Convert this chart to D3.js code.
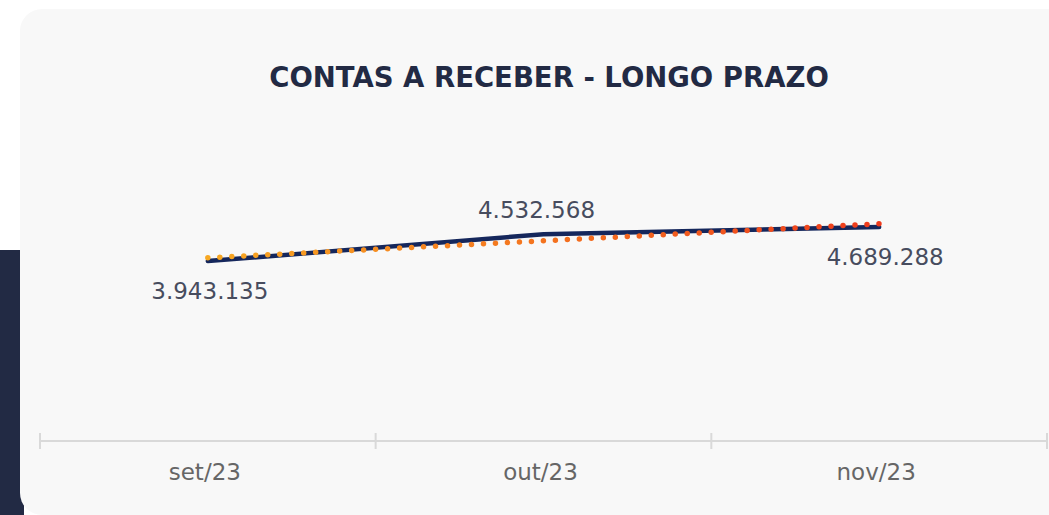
<!DOCTYPE html>
<html>
<head>
<meta charset="utf-8">
<script src="https://cdn.jsdelivr.net/npm/d3@7"></script>
<style>
  body { margin: 0; background: #ffffff; }
  svg { display: block; }
</style>
</head>
<body>
<div id="chart"></div>
<script>
// Data
const months = ["set/23", "out/23", "nov/23"];
const values = [3943135, 4532568, 4689288];
const labelSide = ["below", "above", "below"];
const chartTitle = "CONTAS A RECEBER - LONGO PRAZO";

const width = 1049;
const height = 515;

const svg = d3.select("#chart")
    .append("svg")
    .attr("width", width)
    .attr("height", height);

// Dark strip on the left and the card
svg.append("rect")
    .attr("x", 0).attr("y", 250)
    .attr("width", 24).attr("height", height - 250)
    .attr("fill", "#222a44");

svg.append("rect")
    .attr("x", 20).attr("y", 9)
    .attr("width", 1080).attr("height", 506)
    .attr("rx", 22)
    .attr("fill", "#f8f8f8");

// Scales
const x = d3.scaleBand()
    .domain(months)
    .range([40, 1047])
    .padding(0);

const y = d3.scaleLinear()
    .domain([0, 8000000])
    .range([441, 76]);

const cx = d => x(d) + x.bandwidth() / 2;

// Axis line and band edges
svg.append("line")
    .attr("x1", 40).attr("x2", 1047)
    .attr("y1", 441).attr("y2", 441)
    .attr("stroke", "#d9d9d9")
    .attr("stroke-width", 2);

const edges = months.map(m => x(m)).concat([x(months[months.length - 1]) + x.bandwidth()]);
svg.selectAll(".edge")
    .data(edges)
    .join("line")
    .attr("class", "edge")
    .attr("x1", d => d).attr("x2", d => d)
    .attr("y1", 433).attr("y2", 449)
    .attr("stroke", "#d9d9d9")
    .attr("stroke-width", 2);

svg.selectAll(".month")
    .data(months)
    .join("text")
    .attr("class", "month")
    .attr("x", d => cx(d) - 3)
    .attr("y", 480)
    .attr("text-anchor", "middle")
    .attr("fill", "#666666")
    .style("font-family", "DejaVu Sans, sans-serif")
    .style("font-size", "23px")
    .text(d => d);

// Trend line (linear regression)
const idx = values.map((v, i) => i);
const mx = d3.mean(idx), my = d3.mean(values);
const slope = d3.sum(idx, i => (i - mx) * (values[i] - my)) / d3.sum(idx, i => (i - mx) ** 2);
const intercept = my - slope * mx;
const trend = [0, months.length - 1].map(i => ({ m: months[i], v: intercept + slope * i }));

const grad = svg.append("defs").append("linearGradient")
    .attr("id", "trendGrad")
    .attr("gradientUnits", "userSpaceOnUse")
    .attr("x1", cx(months[0])).attr("x2", cx(months[2]))
    .attr("y1", 0).attr("y2", 0);
grad.append("stop").attr("offset", "0%").attr("stop-color", "#f7a823");
grad.append("stop").attr("offset", "50%").attr("stop-color", "#f4731f");
grad.append("stop").attr("offset", "100%").attr("stop-color", "#ee3a1c");

// Main line
const line = d3.line()
    .x(d => cx(d.m))
    .y(d => y(d.v));

const series = months.map((m, i) => ({ m, v: values[i] }));

svg.append("path")
    .datum(series)
    .attr("d", line)
    .attr("fill", "none")
    .attr("stroke", "#15275c")
    .attr("stroke-width", 4.5)
    .attr("stroke-linecap", "round");

svg.append("path")
    .datum(trend)
    .attr("d", line)
    .attr("fill", "none")
    .attr("stroke", "url(#trendGrad)")
    .attr("stroke-width", 5.5)
    .attr("stroke-linecap", "round")
    .attr("stroke-dasharray", "0 12");

// Data labels
const fmt = v => d3.format(",")(v).replace(/,/g, ".");
const labelShift = [2, -7, 6];
svg.selectAll(".val")
    .data(series)
    .join("text")
    .attr("class", "val")
    .attr("x", (d, i) => cx(d.m) + labelShift[i])
    .attr("y", (d, i) => labelSide[i] === "above" ? y(d.v) - 16 : y(d.v) + 38)
    .attr("text-anchor", "middle")
    .attr("fill", "#474c5e")
    .style("font-family", "DejaVu Sans, sans-serif")
    .style("font-size", "23px")
    .text(d => fmt(d.v));

// Title
svg.append("text")
    .attr("x", 549)
    .attr("y", 87)
    .attr("text-anchor", "middle")
    .attr("fill", "#222a44")
    .style("font-family", "DejaVu Sans, sans-serif")
    .style("font-weight", "bold")
    .style("font-size", "27.5px")
    .text(chartTitle);
</script>
</body>
</html>
